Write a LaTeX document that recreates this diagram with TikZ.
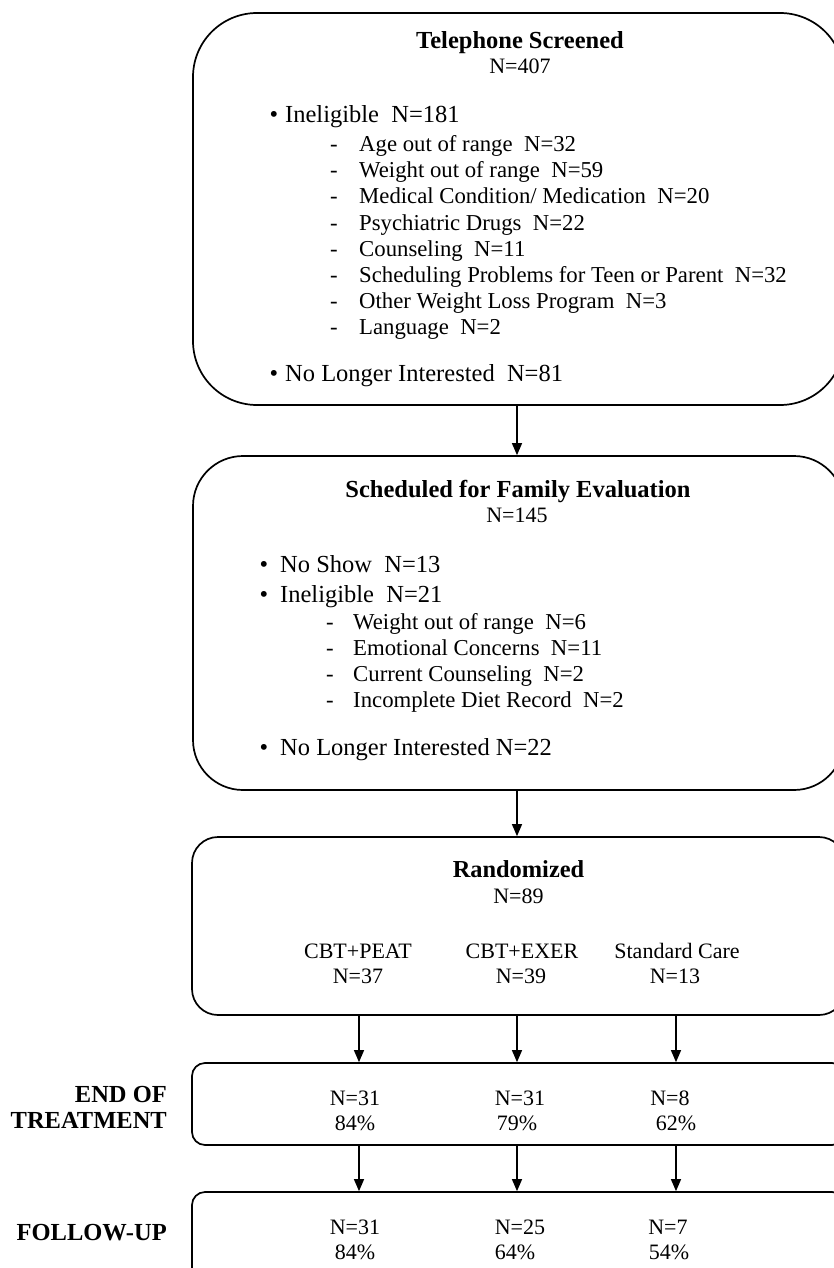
\documentclass[tikz,border=0pt]{standalone}
\usepackage{fontspec}
\setmainfont{Liberation Serif}
\usetikzlibrary{arrows.meta}
\newcommand\fTitle{\fontsize{24.5}{27}\selectfont\bfseries}
\newcommand\fNum{\fontsize{22}{25}\selectfont}
\newcommand\fBul{\fontsize{24.5}{27}\selectfont}
\newcommand\fSub{\fontsize{22.75}{26}\selectfont}
\newcommand\fBigTitle{\fontsize{24.4}{27}\selectfont\bfseries}
\newcommand\fBig{\fontsize{22}{25}\selectfont}
\newcommand\fLab{\fontsize{24.5}{27}\selectfont\bfseries}
\tikzset{
  box/.style={draw, line width=1.7pt, minimum width=651pt, inner sep=0pt},
  arr/.style={line width=1.2pt, -{Triangle[length=12pt,width=10pt]}},
  txt/.style={anchor=base west, inner sep=0pt},
  ctr/.style={anchor=base, inner sep=0pt},
  bul/.style={anchor=base, inner sep=0pt, font=\fBul},
}
\begin{document}
\begin{tikzpicture}[x=1pt,y=-1pt]
\useasboundingbox (0,0) rectangle (834,1268);
\clip (0,0) rectangle (834,1268);
% boxes
\node[box, rounded corners=64pt, minimum height=392pt] (b1) at (518.5,209) {};
\node[box, rounded corners=50pt, minimum height=334pt] (b2) at (518.5,623) {};
\node[box, rounded corners=26pt, minimum height=178pt, minimum width=653pt] (b3) at (518.5,926) {};
\node[box, rounded corners=13pt, minimum height=82pt, minimum width=653pt] (b4) at (518.5,1104) {};
\node[box, rounded corners=13pt, minimum height=110pt, minimum width=653pt] (b5) at (518.5,1247) {};
% box 1
\node[ctr, font=\fTitle] (t1) at (520,49) {Telephone Screened};
\node[ctr, font=\fNum] (n1) at (520,74) {N=407};
\node[bul] (u1) at (274,123) {\textbullet};
\node[txt, font=\fBul] (i1) at (285,123) {Ineligible\ \ N=181};
\foreach \y/\t [count=\k] in {152/{Age out of range\ \ N=32},
  178/{Weight out of range\ \ N=59},
  204/{Medical Condition/ Medication\ \ N=20},
  230/{Psychiatric Drugs\ \ N=22},
  256/{Counseling\ \ N=11},
  282/{Scheduling Problems for Teen or Parent\ \ N=32},
  308/{Other Weight Loss Program\ \ N=3},
  334/{Language\ \ N=2}}{
  \node[ctr, font=\fSub] (d1\k) at (334,\y) {-};
  \node[txt, font=\fSub] (s1\k) at (359,\y) {\t};
}
\node[bul] (u2) at (274,381) {\textbullet};
\node[txt, font=\fBul] (l1) at (285,381) {No Longer Interested\ \ N=81};
% box 2
\node[ctr, font=\fTitle] (t2) at (518,497) {Scheduled for Family Evaluation};
\node[ctr, font=\fNum] (n2) at (517,522) {N=145};
\node[bul] (u3) at (264,572) {\textbullet};
\node[txt, font=\fBul] (ns) at (280,572) {No Show\ \ N=13};
\node[bul] (u4) at (264,602) {\textbullet};
\node[txt, font=\fBul] (i2) at (280,602) {Ineligible\ \ N=21};
\foreach \y/\t [count=\k] in {629/{Weight out of range\ \ N=6},
  655/{Emotional Concerns\ \ N=11},
  681/{Current Counseling\ \ N=2},
  707/{Incomplete Diet Record\ \ N=2}}{
  \node[ctr, font=\fSub] (d2\k) at (330,\y) {-};
  \node[txt, font=\fSub] (s2\k) at (353,\y) {\t};
}
\node[bul] (u5) at (264,755) {\textbullet};
\node[txt, font=\fBul] (l2) at (280,755) {No Longer Interested N=22};
% box 3
\node[ctr, font=\fBigTitle] (t3) at (518.5,877) {Randomized};
\node[ctr, font=\fBig] (n3) at (518.5,903) {N=89};
\node[ctr, font=\fBig] (g1) at (358,958) {CBT+PEAT};
\node[ctr, font=\fBig] (g1n) at (358,983) {N=37};
\node[ctr, font=\fBig] (g2) at (522,958) {CBT+EXER};
\node[ctr, font=\fBig] (g2n) at (521,983) {N=39};
\node[ctr, font=\fBig] (g3) at (677,958) {Standard Care};
\node[ctr, font=\fBig] (g3n) at (675,983) {N=13};
% box 4
\node[ctr, font=\fBig] (e1) at (355,1105) {N=31};
\node[ctr, font=\fBig] (e1p) at (355,1130) {84\%};
\node[ctr, font=\fBig] (e2) at (520,1105) {N=31};
\node[ctr, font=\fBig] (e2p) at (517,1130) {79\%};
\node[ctr, font=\fBig] (e3) at (670,1105) {N=8};
\node[ctr, font=\fBig] (e3p) at (676,1130) {62\%};
% box 5
\node[ctr, font=\fBig] (f1) at (355,1234) {N=31};
\node[ctr, font=\fBig] (f1p) at (355,1259) {84\%};
\node[ctr, font=\fBig] (f2) at (520,1234) {N=25};
\node[ctr, font=\fBig] (f2p) at (515,1259) {64\%};
\node[ctr, font=\fBig] (f3) at (668,1234) {N=7};
\node[ctr, font=\fBig] (f3p) at (669,1259) {54\%};
% side labels
\node[anchor=base east, inner sep=0pt, font=\fLab] (lab1) at (167,1102) {END OF};
\node[anchor=base east, inner sep=0pt, font=\fLab] (lab2) at (167,1128) {TREATMENT};
\node[anchor=base east, inner sep=0pt, font=\fLab] (lab3) at (167,1240) {FOLLOW-UP};
% arrows
\coordinate (c1) at (359,0);
\coordinate (c2) at (517,0);
\coordinate (c3) at (676,0);
\draw[arr] (b1.south -| c2) -- (b2.north -| c2);
\draw[arr] (b2.south -| c2) -- (b3.north -| c2);
\foreach \c in {c1,c2,c3}{
  \draw[arr] (b3.south -| \c) -- (b4.north -| \c);
  \draw[arr] (b4.south -| \c) -- (b5.north -| \c);
}
\end{tikzpicture}
\end{document}
